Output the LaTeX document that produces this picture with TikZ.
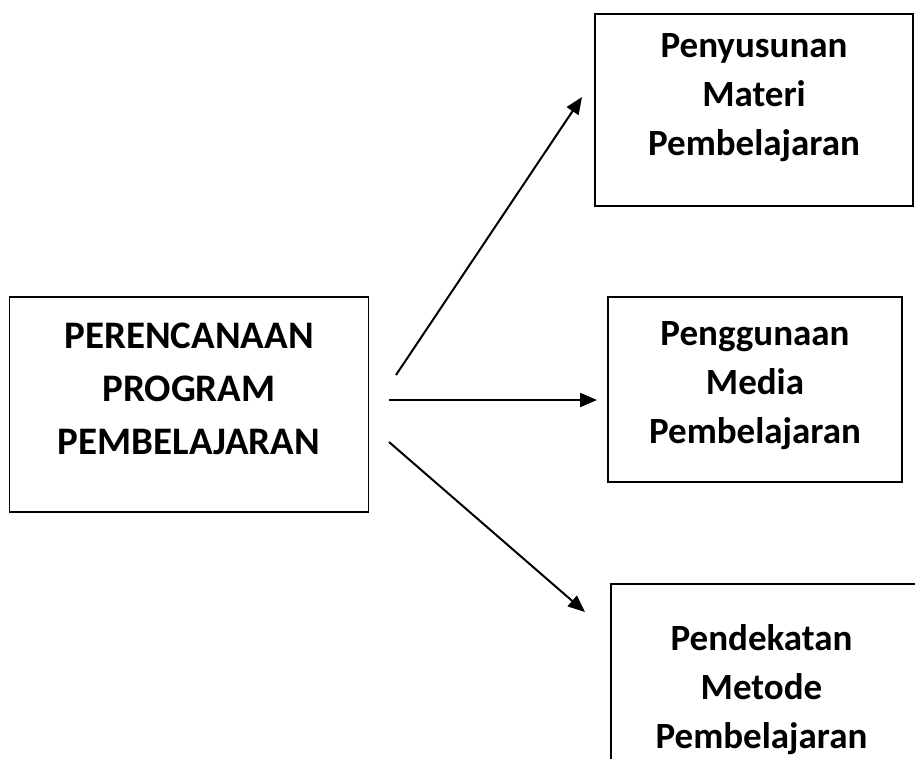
\documentclass[tikz,border=0pt]{standalone}
\usepackage{fontspec}
\setmainfont{Carlito}
\usetikzlibrary{arrows.meta}

\tikzset{
  box/.style={draw, rectangle, line width=1.6pt, inner sep=0pt},
  boxtext/.style={align=center, inner sep=0pt, font=\fontsize{37}{49}\selectfont\bfseries},
  link/.style={-{Triangle[length=17pt,width=14pt]}, line width=2pt}
}

\begin{document}
\begin{tikzpicture}[x=1pt, y=-1pt]
  \clip (0,0) rectangle (915,758);

  \node[box, minimum width=359pt, minimum height=215pt] (plan)   at (189,404.5) {};
  \node[box, minimum width=318pt, minimum height=192pt] (materi) at (754,110)   {};
  \node[box, minimum width=294pt, minimum height=185pt] (media)  at (755,389.5) {};
  \node[box, minimum width=309pt, minimum height=216pt] (metode) at (765.5,692) {};

  \node[boxtext, font=\fontsize{39}{53}\selectfont\bfseries] (plantext)
        at ([yshift=16pt]plan.center)  {PERENCANAAN\\PROGRAM\\PEMBELAJARAN};
  \node[boxtext] (materitext) at ([yshift=12pt]materi.center) {Penyusunan\\Materi\\Pembelajaran};
  \node[boxtext] (mediatext)  at ([yshift=4pt]media.center)   {Penggunaan\\Media\\Pembelajaran};
  \node[boxtext] (metodetext) at ([xshift=-4pt,yshift=2pt]metode.center) {Pendekatan\\Metode\\Pembelajaran};

  % arrows start and end short of the boxes
  \coordinate (tail1) at (396,375);
  \coordinate (head1) at (582,97);
  \coordinate (tail2) at (389,400);
  \coordinate (head2) at (597,400);
  \coordinate (tail3) at (389,442);
  \coordinate (head3) at (585,612);

  \draw[link] (tail1) -- (head1);
  \draw[link] (tail2) -- (head2);
  \draw[link] (tail3) -- (head3);
\end{tikzpicture}
\end{document}
